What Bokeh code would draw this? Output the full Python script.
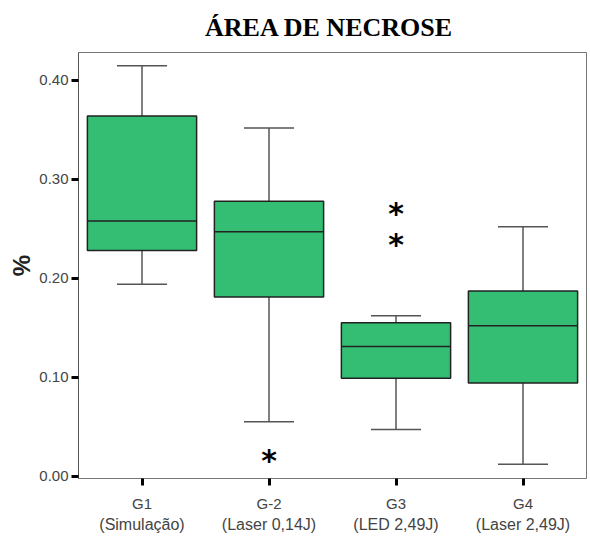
from bokeh.plotting import figure
from bokeh.models import (FactorRange, Range1d, CategoricalAxis, NumeralTickFormatter,
                          FixedTicker, ColumnDataSource, Whisker, TeeHead)
from bokeh.transform import dodge
from bokeh.core.properties import value
from bokeh.embed import file_html
from bokeh.resources import INLINE

groups = ["G1", "G-2", "G3", "G4"]
subtitles = ["(Simulação)", "(Laser 0,14J)", "(LED 2,49J)", "(Laser 2,49J)"]
whisker_low = [0.194, 0.055, 0.047, 0.012]
q1 = [0.228, 0.181, 0.099, 0.094]
median = [0.258, 0.247, 0.131, 0.152]
q3 = [0.364, 0.278, 0.155, 0.187]
whisker_high = [0.415, 0.352, 0.162, 0.252]
outlier_groups = ["G-2", "G3", "G3"]
outlier_values = [0.017, 0.235, 0.267]
y_ticks = [0.0, 0.1, 0.2, 0.3, 0.4]

GREEN = "#33BE74"
FONT = "Liberation Sans"

src = ColumnDataSource(dict(g=groups, lo=whisker_low, q1=q1, med=median, q3=q3, hi=whisker_high))
out_src = ColumnDataSource(dict(g=outlier_groups, v=outlier_values))

p = figure(width=590, height=536, output_backend="svg", toolbar_location=None,
           x_range=FactorRange(*groups, range_padding=0),
           y_range=Range1d(-0.0025, 0.4283),
           min_border_left=78, min_border_right=4, min_border_top=52, min_border_bottom=58)

p.title.text = "ÁREA  DE NECROSE"
p.title.align = "center"
p.title.text_font = "Liberation Serif"
p.title.text_font_style = "bold"
p.title.text_font_size = "26px"
p.title.text_color = "black"
p.title.standoff = 21

p.xgrid.visible = False
p.ygrid.visible = False
p.outline_line_color = "#777777"
p.background_fill_color = "white"
p.border_fill_color = "white"

# whiskers
p.add_layout(Whisker(source=src, base="g", lower="q3", upper="hi", dimension="height",
                     line_color="#555555", line_width=1.5, lower_head=None,
                     upper_head=TeeHead(size=50, line_color="#555555", line_width=1.5)))
p.add_layout(Whisker(source=src, base="g", lower="lo", upper="q1", dimension="height",
                     line_color="#555555", line_width=1.5, upper_head=None,
                     lower_head=TeeHead(size=50, line_color="#555555", line_width=1.5)))

# boxes
p.vbar(x="g", bottom="q1", top="q3", width=0.86, source=src,
       fill_color=GREEN, line_color="#222222", line_width=1.5)
p.segment(x0=dodge("g", -0.43, range=p.x_range), x1=dodge("g", 0.43, range=p.x_range),
          y0="med", y1="med", source=src, line_color="#222222", line_width=1.5)

# outliers
p.text(x="g", y="v", text=value("*"), source=out_src, text_font=value("DejaVu Sans"),
       text_font_style="bold", text_font_size="30px", text_align="center",
       text_baseline="alphabetic", y_offset=1, text_color="black")

# y axis
ya = p.yaxis[0]
ya.ticker = FixedTicker(ticks=y_ticks)
ya.formatter = NumeralTickFormatter(format="0.00")
ya.major_tick_in = 0
ya.major_tick_out = 7
ya.major_tick_line_width = 3
ya.major_tick_line_color = "black"
ya.minor_tick_line_color = None
ya.axis_line_color = "#555555"
ya.major_label_text_font = FONT
ya.major_label_text_font_size = "15px"
ya.major_label_text_color = "#444444"
ya.major_label_standoff = 3
ya.axis_label = "%"
ya.axis_label_text_font = FONT
ya.axis_label_text_font_style = "bold"
ya.axis_label_text_font_size = "24px"
ya.axis_label_text_color = "#222222"
ya.axis_label_standoff = 1

# x axis (first line)
xa = p.xaxis[0]
xa.major_tick_in = 0
xa.major_tick_out = 7
xa.major_tick_line_width = 3
xa.major_tick_line_color = "black"
xa.axis_line_color = "#777777"
xa.major_label_text_font = FONT
xa.major_label_text_font_size = "15px"
xa.major_label_text_color = "#444444"
xa.major_label_standoff = 9

# x axis (second line)
p.extra_x_ranges = {"sub": FactorRange(*subtitles, range_padding=0)}
xa2 = CategoricalAxis(x_range_name="sub")
xa2.major_tick_in = 0
xa2.major_tick_out = 0
xa2.major_tick_line_color = None
xa2.axis_line_color = None
xa2.major_label_text_font = FONT
xa2.major_label_text_font_size = "16px"
xa2.major_label_text_color = "#444444"
xa2.major_label_standoff = 1
p.add_layout(xa2, "below")

open("out.html", "w").write(file_html(p, INLINE))
